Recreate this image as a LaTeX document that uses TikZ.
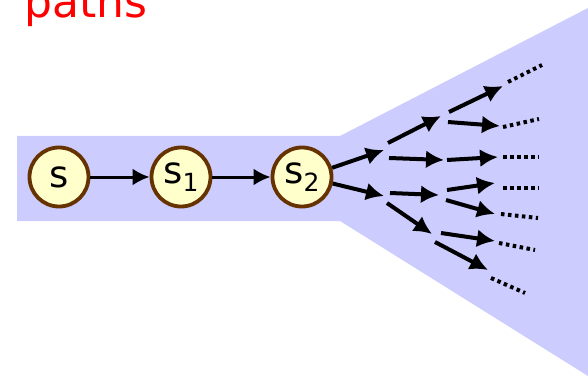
\documentclass[tikz,border=0pt]{standalone}
\usepackage{fontspec}
\setmainfont{DejaVu Sans}
\usetikzlibrary{arrows.meta}
\definecolor{bandblue}{HTML}{CCCCFF}
\definecolor{nodefill}{HTML}{FFFFCC}
\definecolor{nodeline}{HTML}{663300}
\tikzset{
  state/.style={circle,draw=nodeline,fill=nodefill,line width=3.8pt,minimum size=59pt,inner sep=0pt,font=\fontsize{37}{37}\selectfont},
  mainarrow/.style={line width=3pt,-{Latex[length=17pt,width=17pt]}},
  fanarrow/.style={line width=4pt,-{Latex[length=18pt,width=18pt]}},
  dotline/.style={line width=4pt,dash pattern=on 3.5pt off 3.5pt},
}
\newcommand{\subnum}[1]{\raisebox{-0.22em}{\fontsize{25}{25}\selectfont #1}}
\begin{document}
\begin{tikzpicture}[x=1pt,y=-1pt]
\useasboundingbox (0,0) rectangle (588,382);
\clip (0,0) rectangle (588,382);
\fill[bandblue] (17,136) -- (340,136) -- (588,8) -- (588,376) -- (340,221) -- (17,221) -- cycle;
\node[anchor=base west,text=red,font=\fontsize{44}{44}\selectfont,inner sep=0pt] (title) at (24,18) {paths};
\node[state] (s) at (59,177) {s};
\node[state] (s1) at (181,177) {s\subnum{1}};
\node[state] (s2) at (302,177) {s\subnum{2}};
\draw[mainarrow] (s) -- (s1);
\draw[mainarrow] (s1) -- (s2);
\coordinate (a1e) at (384,150);
\coordinate (a2e) at (384,196);
\draw[fanarrow] (s2.17) -- (a1e);
\draw[fanarrow] (s2.-12) -- (a2e);
\foreach \n/\a/\b/\c/\d in {
  b1/388/143/441/116, b2/389/158/444/160, b3/390/193/439/195, b4/387/203/432/234,
  c1/449/112/503/86, c2/448/122/500/126, c3/447/160/498/157, c4/447/190/495/183,
  c5/446/200/495/214, c6/441/233/495/241, c7/435/242/488/270}{
  \coordinate (\n s) at (\a,\b);
  \coordinate (\n e) at (\c,\d);
  \draw[fanarrow] (\n s) -- (\n e);
}
\foreach \n/\a/\b/\c/\d in {
  d1/508/82/542/65, d2/503/127/539/119, d3/503/157/539/157, d4/503/188/539/188,
  d5/501/214/538/218, d6/499/243/535/250, d7/491/278/525/293}{
  \coordinate (\n s) at (\a,\b);
  \coordinate (\n e) at (\c,\d);
  \draw[dotline] (\n s) -- (\n e);
}
\end{tikzpicture}
\end{document}
